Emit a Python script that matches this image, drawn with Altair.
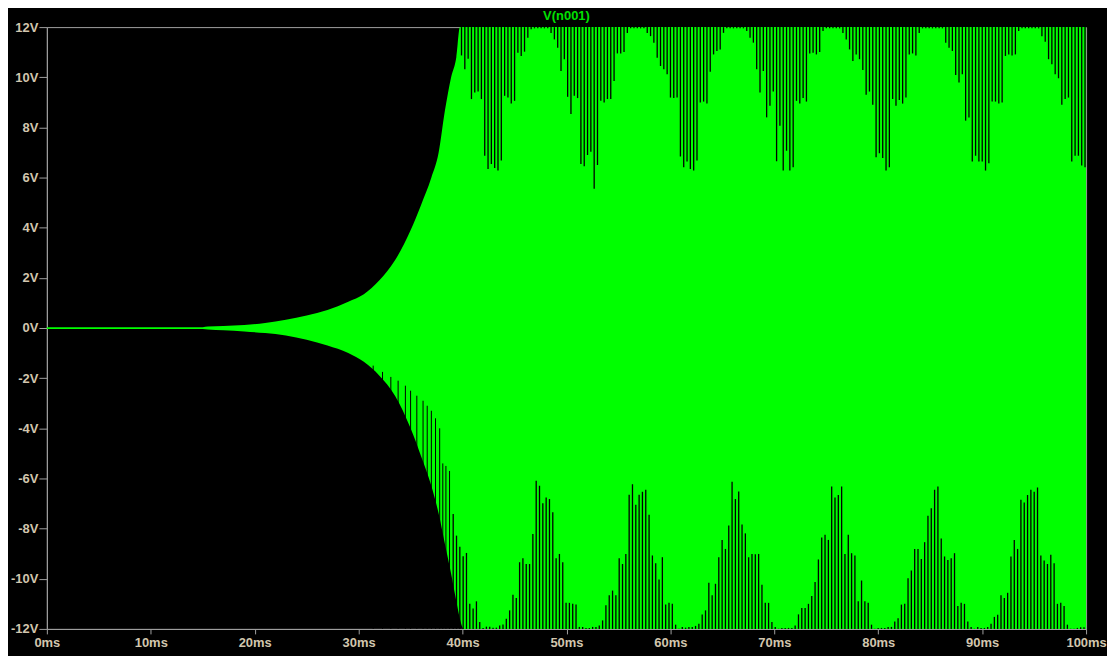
import altair as alt
import pandas as pd
import numpy as np

GREEN = "#00ff00"
AXIS_GREY = "#a0a0a0"
LABEL_COL = "#d2c6ae"
FONT = "Liberation Sans"

# growth envelope of V(n001): time (ms), upper and lower bound (V)
ENV_T = [0, 5, 10, 15, 15.5, 17, 19, 21, 23, 25, 27, 29, 30.5, 32, 33.5, 35, 36, 37, 37.7, 38.3, 38.9, 39.4, 39.75, 40.1, 100]
ENV_UP = [0.035, 0.035, 0.035, 0.035, 0.06, 0.08, 0.12, 0.2, 0.33, 0.5, 0.72, 1.05, 1.35, 1.9, 2.7, 3.9, 4.9, 6.0, 7.0, 8.66, 10.0, 10.8, 12.0, 12.0, 12.0]
ENV_LO = [-0.035, -0.035, -0.035, -0.035, -0.06, -0.09, -0.14, -0.2, -0.3, -0.47, -0.7, -1.0, -1.35, -1.9, -2.7, -4.0, -5.1, -6.3, -7.4, -8.6, -9.8, -10.9, -11.6, -12.0, -12.0]

# highest value reached by the dark gaps rising from below during the build-up (ms, V)
GROW_T = [31.4, 32.3, 33.1, 33.8, 34.5, 35.0, 35.6, 36.2, 36.6, 37.0, 37.4, 37.8, 38.1, 38.4, 38.75]
GROW_V = [-1.5, -1.75, -1.95, -2.1, -2.3, -2.5, -2.7, -2.9, -3.1, -3.3, -3.6, -4.0, -5.4, -5.5, -5.7]

# lowest value reached by each dark gap hanging from the +12V clip (V)
TOP_START, TOP_END = 39.9, 99.9
TOP_V = [
    10.87, 10.32, 10.74, 9.13, 9.39, 9.43, 9.13, 6.87, 6.34, 6.54, 6.38, 6.28, 6.68, 9.26, 9.19, 8.95, 9.06,
    10.98, 10.85, 11.02, 11.58, 11.91,
    11.95, 11.95, 11.95, 11.95, 11.95,
    11.77, 11.51, 11.18, 10.25, 10.72, 9.22, 8.53, 9.26, 9.17, 6.54, 6.45, 6.90, 7.03, 5.55, 6.50, 9.06, 8.99,
    9.13, 9.13, 9.85, 10.95, 10.95, 11.01, 11.77,
    11.95, 11.95, 11.95, 11.95, 11.95,
    11.77, 11.64, 11.38, 10.78, 10.45, 10.32, 10.12, 9.19, 9.17, 9.19, 6.84, 6.41, 6.64, 6.34, 6.28, 6.68, 8.99,
    9.03, 8.95, 10.22, 10.91, 11.05, 11.11, 11.77,
    11.95, 11.95, 11.95, 11.95, 11.95, 11.95,
    11.84, 11.58, 11.38, 10.32, 9.39, 10.25,
    8.40, 8.86, 9.43, 6.65, 8.07, 6.28, 7.07, 6.28, 6.41, 9.06, 8.95, 9.17, 9.03, 10.95, 10.98, 10.91, 11.01, 11.84,
    11.95, 11.95, 11.95, 11.95, 11.95,
    11.77, 11.51, 11.11, 10.65, 10.91, 10.72, 10.29, 9.30, 9.43, 8.90, 6.81, 6.97, 6.78, 6.28, 6.41, 9.13, 8.86,
    9.09, 8.95, 9.19, 10.91, 10.95, 10.87, 11.77,
    11.95, 11.95, 11.95, 11.95, 11.95, 11.95, 11.95,
    11.38, 11.18, 11.05, 10.09, 9.79, 10.12, 8.27, 8.40, 6.64, 6.87, 6.64, 6.64, 6.28, 6.57, 9.03, 9.03, 8.95,
    8.99, 10.85, 10.91, 10.87, 10.91, 11.84,
    11.95, 11.95, 11.95, 11.95, 11.95, 11.95,
    11.64, 11.42, 10.72, 10.52, 10.12, 9.96, 8.90, 9.13, 9.19, 6.64, 6.87, 6.87, 6.48, 6.41,
]

# highest value reached by each dark gap rising from the -12V clip (V)
BOT_START, BOT_END = 39.1, 99.8
BOT_V = [
    -7.42, -8.28, -8.72, -9.10, -8.97, -11.00, -11.19, -10.90, -11.72, -11.96, -11.91, -11.91, -11.95, -11.95,
    -11.86, -11.82, -11.59, -11.26, -10.64, -10.77, -9.34, -9.18, -9.41, -9.41, -8.21, -6.09, -6.29, -6.99,
    -6.76, -6.82, -7.35, -9.18, -9.01, -9.34, -10.96, -10.96, -11.00, -11.03, -11.92, -11.92, -11.96, -11.96,
    -11.92, -11.92, -11.86, -11.66, -11.06, -10.66, -10.47, -10.66, -9.18, -9.41, -9.01, -6.65, -6.23, -7.05,
    -6.65, -6.53, -6.45, -7.45, -9.07, -9.38, -10.03, -9.14, -11.03, -10.96, -11.00, -11.83, -11.99, -11.92,
    -11.95, -11.92, -11.92, -11.88, -11.79, -11.42, -11.26, -10.16, -10.66, -10.20, -9.14, -8.45, -8.81, -7.88,
    -6.13, -6.82, -6.52, -7.84, -8.19, -9.14, -9.01, -9.02, -9.01, -10.24, -10.96, -10.96, -11.72,
    -11.92, -11.99, -11.96, -11.96, -11.96, -11.96, -11.86, -11.42, -11.17, -11.17, -11.00, -10.69, -10.13,
    -9.23, -8.35, -8.24, -8.45, -6.32, -6.76, -6.66, -6.32, -9.01, -8.24, -8.98, -9.07, -10.90, -10.07, -10.90,
    -10.96, -11.83, -11.99, -11.96, -11.96, -11.96, -11.92, -11.92, -11.70, -11.57, -11.03, -11.00, -9.98,
    -9.67, -8.81, -8.81, -9.21, -8.54, -7.49, -7.19, -6.45, -6.32, -8.39, -9.11, -9.25, -9.18, -8.98, -11.09,
    -10.96, -11.00, -11.70, -11.92, -11.99, -11.92, -11.96, -11.96, -11.92, -11.79, -11.52, -11.43, -10.66,
    -10.77, -10.56, -9.11, -8.45, -8.81, -6.85, -6.96, -6.66, -6.45, -6.53, -6.36, -9.07, -9.27, -9.41, -9.04,
    -9.38, -11.00, -10.96, -11.09, -11.83, -11.99, -11.99, -11.96, -11.93, -11.93,
]

X_TICKS = list(range(0, 101, 10))
Y_TICKS = list(range(-12, 13, 2))

env = pd.DataFrame({"t": ENV_T, "hi": ENV_UP, "lo": ENV_LO})
top = pd.DataFrame({"t": np.linspace(TOP_START, TOP_END, len(TOP_V)), "v": TOP_V, "edge": 12.0})
bot = pd.DataFrame({"t": np.linspace(BOT_START, BOT_END, len(BOT_V)), "v": BOT_V, "edge": -12.0})
grow = pd.DataFrame({"t": GROW_T, "v": GROW_V, "edge": -12.0})

xs = alt.Scale(domain=[0, 100], nice=False, zero=False)
ys = alt.Scale(domain=[-12, 12], nice=False, zero=False)

common = dict(
    grid=False, title=None, domainColor=AXIS_GREY, tickColor=AXIS_GREY, labelColor=LABEL_COL,
    labelFont=FONT, labelFontSize=13, labelFontWeight="bold", labelOverlap=False, labelFlush=False,
)
xax = alt.Axis(values=X_TICKS, labelExpr="datum.value + 'ms'", tickSize=5, labelPadding=3, **common)
yax = alt.Axis(values=Y_TICKS, labelExpr="datum.value + 'V'", tickSize=8, labelPadding=1, **common)

area = alt.Chart(env).mark_area(color=GREEN, opacity=1, interpolate="monotone").encode(
    x=alt.X("t:Q", scale=xs, axis=xax),
    y=alt.Y("hi:Q", scale=ys, axis=yax),
    y2="lo:Q",
)


def gaps(df, width):
    return alt.Chart(df).mark_rule(color="#000000", strokeWidth=width).encode(
        x=alt.X("t:Q", scale=xs), y=alt.Y("edge:Q", scale=ys), y2="v:Q"
    )


chart = alt.layer(area, gaps(grow, 1.0), gaps(top, 1.3), gaps(bot, 1.3)).properties(
    width=1043, height=604,
    padding={"left": 39, "top": 18, "right": 21, "bottom": 26},
    autosize="none",
    background="#000000",
    title=alt.TitleParams("V(n001)", color="#00e000", font=FONT, fontSize=13, fontWeight="bold",
                          anchor="middle", offset=0, dy=2),
).configure_view(stroke=AXIS_GREY, strokeWidth=1)

chart.save("out.html", embed_options={"renderer": "svg", "actions": False})
